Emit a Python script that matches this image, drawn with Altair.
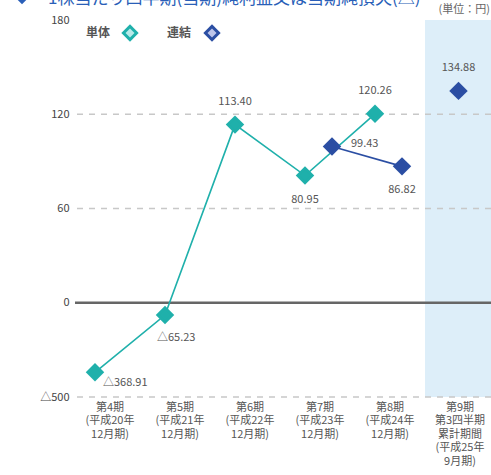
import altair as alt
import pandas as pd

periods = [
    "第4期|(平成20年|12月期)",
    "第5期|(平成21年|12月期)",
    "第6期|(平成22年|12月期)",
    "第7期|(平成23年|12月期)",
    "第8期|(平成24年|12月期)",
    "第9期|第3四半期|累計期間|(平成25年|9月期)",
]
series_names = ["単体", "連結"]
tantai = [-368.91, -65.23, 113.40, 80.95, 120.26, None]
renketsu = [None, None, None, 99.43, 86.82, 134.88]
tantai_pos = ["lowright", "belowright", "above", "below", "above", None]
renketsu_pos = [None, None, None, "right", "below", "above"]
connected = [True, True, True, True, True, False]
y_ticks = [-60, 0, 60, 120, 180]
grid_vals = [-60, 60, 120]
shade_period = periods[5]

rows = []
for s, vals, pos in [("単体", tantai, tantai_pos), ("連結", renketsu, renketsu_pos)]:
    for p, v, lp, c in zip(periods, vals, pos, connected):
        if v is None:
            continue
        lab = ("△" + f"{abs(v):.2f}") if v < 0 else f"{v:.2f}"
        rows.append({"period": p, "series": s, "value": v, "label": lab, "pos": lp, "conn": c})
df = pd.DataFrame(rows)

FONT = "Noto Sans CJK JP"
TEAL = "#1fb0ab"
BLUE = "#2b4ea3"
colors = alt.Scale(domain=series_names, range=[TEAL, BLUE])
light = alt.Scale(domain=series_names, range=["#c9f1ef", "#cdd3f3"])

xscale = alt.Scale(type="band", domain=periods, range=[0, 420], paddingInner=0, paddingOuter=0)
xenc = alt.X("period:N", sort=periods, scale=xscale,
             axis=alt.Axis(title=None, labelAngle=0, ticks=False, domain=False, grid=False,
                           labelExpr="split(datum.label, '|')", labelBaseline="top",
                           labelAlign="center",
                           labelPadding=4, labelLineHeight=13.5, labelFontSize=11,
                           labelColor="#555555", labelFont=FONT))
xoff = alt.XOffset("okey:N", scale=alt.Scale(type="point", domain=["単体", "独立", "連結"],
                                             range=[20, 47], padding=0))
yscale = alt.Scale(domain=[-60, 180], nice=False, zero=False)
yaxis = alt.Axis(title=None, values=y_ticks, ticks=False, domain=False, grid=False,
                 labelExpr="datum.value == -60 ? '△500' : datum.label",
                 labelPadding=6, labelFontSize=11, labelColor="#444444", labelFont=FONT)
yenc = alt.Y("yv:Q", scale=yscale, axis=yaxis)

base = alt.Chart(df).transform_calculate(
    yv="datum.value < 0 ? datum.value * 60 / 500 : datum.value",
    okey="datum.conn ? datum.series : '独立'",
)

si = periods.index(shade_period)
shade = alt.Chart(pd.DataFrame({"s": [si], "e": [si + 1], "top": [180], "bot": [-60]})).mark_rect(
    color="#ddeef9").encode(
    x=alt.X("s:Q", scale=alt.Scale(domain=[0, len(periods)], range=[0, 420], nice=False, zero=False), axis=None),
    x2="e:Q",
    y=alt.Y("top:Q", scale=yscale, axis=yaxis), y2="bot:Q")

grid = alt.Chart(pd.DataFrame({"g": grid_vals})).mark_rule(
    color="#c8c8c8", strokeWidth=1.5, strokeDash=[6, 6]).encode(y=alt.Y("g:Q", scale=yscale, axis=yaxis))
zero = alt.Chart(pd.DataFrame({"z": [0]})).mark_rule(color="#666666", strokeWidth=2.5).encode(
    y=alt.Y("z:Q", scale=yscale, axis=yaxis))

lines = base.transform_filter("datum.conn").mark_line(strokeWidth=1.6).encode(
    x=xenc, xOffset=xoff, y=yenc,
    color=alt.Color("series:N", scale=colors, legend=None), detail="series:N")

pts = base.mark_point(shape="diamond", filled=True, size=340, opacity=1).encode(
    x=xenc, xOffset=xoff, y=yenc, color=alt.Color("series:N", scale=colors, legend=None))
pts_in = base.mark_point(shape="diamond", filled=True, size=90, opacity=0.9).encode(
    x=xenc, xOffset=xoff, y=yenc, color=alt.Color("series:N", scale=light, legend=None))

def lab(pos, dx, dy, align):
    return base.transform_filter(f"datum.pos == '{pos}'").mark_text(
        font=FONT, fontSize=11, color="#555555", dx=dx, dy=dy, align=align, baseline="middle").encode(
        x=xenc, xOffset=xoff, y=yenc, text="label:N")

labels = [lab("above", 0, -23, "center"), lab("below", 0, 24, "center"),
          lab("lowright", 8, 11, "left"), lab("belowright", -8, 23, "left"),
          lab("right", 19, -3, "left")]

dummy = alt.Chart(pd.DataFrame({"a": [0]}))
def txt(t, x, y, **kw):
    return dummy.mark_text(font=FONT, baseline="middle", **kw).encode(
        x=alt.value(x), y=alt.value(y), text=alt.value(t))
def dia(x, y, c, c2, s=300):
    return [dummy.mark_point(shape="diamond", filled=True, size=s, color=c, opacity=1).encode(
                x=alt.value(x), y=alt.value(y)),
            dummy.mark_point(shape="diamond", filled=True, size=s * 0.27, color=c2, opacity=0.9).encode(
                x=alt.value(x), y=alt.value(y))]

deco = [
    txt("単体", 23, 13, fontSize=12, color="#555555", fontWeight="bold"),
    txt("連結", 104, 13, fontSize=12, color="#555555", fontWeight="bold"),
    *dia(55, 13, TEAL, "#c9f1ef"),
    *dia(137, 13, BLUE, "#cdd3f3"),
    txt("(単位：円)", 415, -10, fontSize=11, color="#666666", align="right"),
    dummy.mark_text(font=FONT, fontSize=17, color="#2a5fb8", align="left", baseline="alphabetic").encode(
        x=alt.value(-27), y=alt.value(-16), text=alt.value("1株当たり四半期(当期)純利益又は当期純損失(△)")),
    dummy.mark_point(shape="diamond", filled=True, size=110, color="#2a5fb8", opacity=1).encode(
        x=alt.value(-53), y=alt.value(-21)),
]

main = alt.layer(grid, zero, lines, pts, pts_in, *labels, *deco)
chart = alt.layer(shade, main).resolve_scale(x="independent").properties(
    width=416, height=377,
    autosize=alt.AutoSizeParams(type="none"),
    padding={"left": 75, "top": 20, "right": 0, "bottom": 78},
    background="white",
).configure_view(stroke=None)

chart.save("out.html", embed_options={"renderer": "svg", "actions": False})
